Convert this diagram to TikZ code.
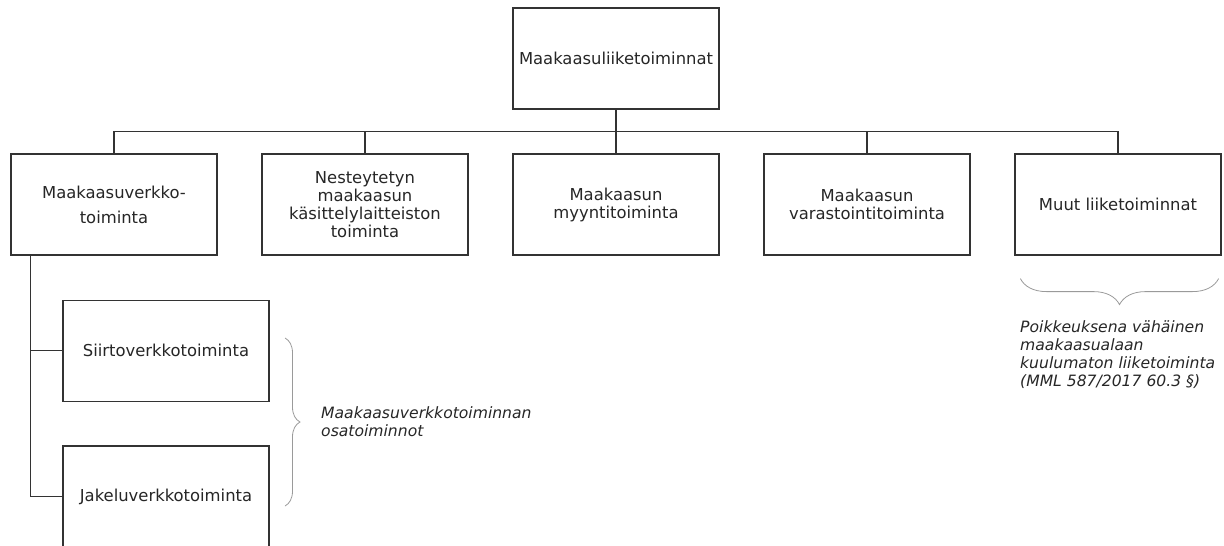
\documentclass[tikz,border=0pt]{standalone}
\usepackage{fontspec}
\setmainfont{DejaVu Sans}
\usetikzlibrary{calc,decorations.pathreplacing}
\definecolor{linegray}{HTML}{333333}
\definecolor{bracegray}{HTML}{9A9A9A}
\tikzset{
  box/.style={draw=linegray,line width=1.2pt,minimum width=206pt,minimum height=101pt,
    align=center,text=black!85,font=\fontsize{16.4}{18}\selectfont},
  link/.style={draw=linegray,line width=1.2pt},
  curly/.style={draw=bracegray,line width=0.8pt,decorate,decoration={brace,amplitude=#1}},
  note/.style={align=left,inner sep=0pt,text=black!85,font=\fontsize{15.6}{18}\selectfont\itshape}
}
\begin{document}
\begin{tikzpicture}[x=1pt,y=-1pt]
  \useasboundingbox (0,0) rectangle (1224,546);
  \node[box] (top) at (616,58.5) {Maakaasuliiketoiminnat};
  \node[box] (verkko) at (114,204.5) {Maakaasuverkko-\\[7pt]toiminta};
  \node[box] (lng) at (365,204.5) {Nesteytetyn\\maakaasun\\käsittelylaitteiston\\toiminta};
  \node[box] (myynti) at (616,204.5) {Maakaasun\\myyntitoiminta};
  \node[box] (varasto) at (867,204.5) {Maakaasun\\varastointitoiminta};
  \node[box] (muut) at (1118,204.5) {Muut liiketoiminnat};
  \node[box] (siirto) at (166,350.7) {Siirtoverkkotoiminta};
  \node[box] (jakelu) at (166,496.5) {Jakeluverkkotoiminta};
  % tree lines
  \coordinate (bus) at ($(top.south)!0.5!(myynti.north)$);
  \draw[link] (top) -- (myynti);
  \foreach \b in {verkko,lng,varasto,muut}
    \draw[link] (bus) -| (\b.north);
  \coordinate (trunk) at ([xshift=20pt]verkko.south west);
  \draw[link] (trunk) |- (siirto.west);
  \draw[link] (trunk) |- (jakelu.west);
  % braces
  \coordinate (bt) at (285,338);
  \coordinate (bb) at (285,506);
  \draw[curly=15pt] (bt) -- (bb);
  \node[note,anchor=west] (osa) at (321,422) {Maakaasuverkkotoiminnan\\osatoiminnot};
  \coordinate (rt) at ([xshift=-3pt,yshift=-23pt]muut.south east);
  \coordinate (lt) at ([xshift=6pt,yshift=-23pt]muut.south west);
  \draw[curly=26pt] (rt) -- (lt);
  \node[note,anchor=north west] (poik) at (1020,320)
    {Poikkeuksena vähäinen\\maakaasualaan\\kuulumaton liiketoiminta\\(MML 587/2017 60.3 §)};
\end{tikzpicture}
\end{document}
